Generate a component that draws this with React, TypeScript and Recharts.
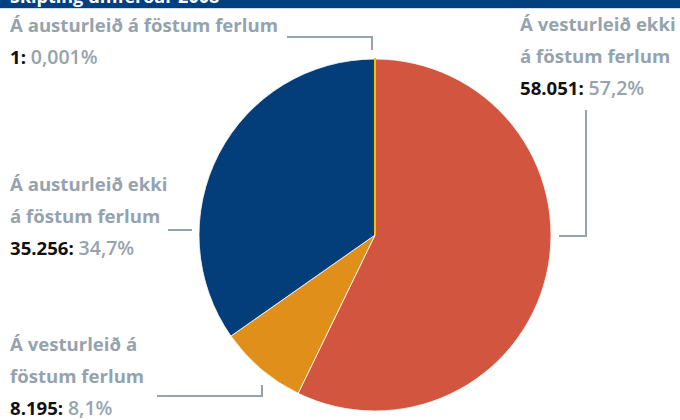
import React from "react";
import { PieChart, Pie, Cell } from "recharts";

const categories = [
  "Á vesturleið ekki á föstum ferlum",
  "Á vesturleið á föstum ferlum",
  "Á austurleið ekki á föstum ferlum",
  "Á austurleið á föstum ferlum",
];
const counts = [58051, 8195, 35256, 1];
const colors = ["#D1553F", "#E08F1B", "#033D7A", "#F2C400"];

const data = categories.map((name, i) => ({ name, value: counts[i] }));

const GREY = "#94A3AD";
const FONT = "'Open Sans', 'Noto Sans', sans-serif";

type LabelProps = { x: number; y: number; lines: string[]; num: string; pct: string };

const Label: React.FC<LabelProps> = ({ x, y, lines, num, pct }) => (
  <div style={{ position: "absolute", left: x, top: y, fontFamily: FONT, fontWeight: 700, fontSize: 18.6, lineHeight: "32px", color: GREY, whiteSpace: "nowrap" }}>
    {lines.map((l) => (
      <div key={l}>{l}</div>
    ))}
    <div>
      <span style={{ color: "#111" }}>{num}: </span>
      <span style={{ fontWeight: 600, fontSize: 19.5 }}>{pct}</span>
    </div>
  </div>
);

const line = (left: number, top: number, width: number, height: number) => (
  <div style={{ position: "absolute", left, top, width, height, background: GREY }} />
);

export default function App() {
  return (
    <div style={{ position: "absolute", left: 0, top: 0, width: 680, height: 420, background: "#fff", overflow: "hidden" }}>
      <div style={{ position: "absolute", left: 0, top: 0, width: 680, height: 8, background: "#00407F", overflow: "hidden" }}>
        <div style={{ position: "absolute", left: 10, top: -16, fontFamily: FONT, fontWeight: 700, fontSize: 18, color: "#fff", whiteSpace: "nowrap" }}>
          Skipting umferðar 2008
        </div>
      </div>
      <div style={{ position: "absolute", left: 0, top: 8, width: 680, height: 1, background: "#CFE0EE" }} />
      <div style={{ position: "absolute", left: 0, top: 0 }}>
        <PieChart width={680} height={420}>
          <Pie
            data={data}
            dataKey="value"
            nameKey="name"
            cx={370}
            cy={230}
            outerRadius={176}
            startAngle={90}
            endAngle={-270}
            stroke="#fff"
            strokeWidth={0.8}
            isAnimationActive={false}
          >
            {data.map((d, i) => (
              <Cell
                key={d.name}
                fill={colors[i]}
                stroke={i === 3 ? colors[i] : "#fff"}
                strokeWidth={i === 3 ? 2 : 0.8}
              />
            ))}
          </Pie>
        </PieChart>
      </div>
      <Label x={10} y={9} lines={["Á austurleið á föstum ferlum"]} num="1" pct="0,001%" />
      <Label x={520} y={8} lines={["Á vesturleið ekki", "á föstum ferlum"]} num="58.051" pct="57,2%" />
      <Label x={10} y={168} lines={["Á austurleið ekki", "á föstum ferlum"]} num="35.256" pct="34,7%" />
      <Label x={10} y={328} lines={["Á vesturleið á", "föstum ferlum"]} num="8.195" pct="8,1%" />
      {line(287, 36, 86, 2)}
      {line(371, 36, 2, 14)}
      {line(585, 110, 2, 127)}
      {line(559, 235, 28, 2)}
      {line(168, 229, 24, 2)}
      {line(157, 395, 106, 2)}
      {line(261, 385, 2, 12)}
    </div>
  );
}
